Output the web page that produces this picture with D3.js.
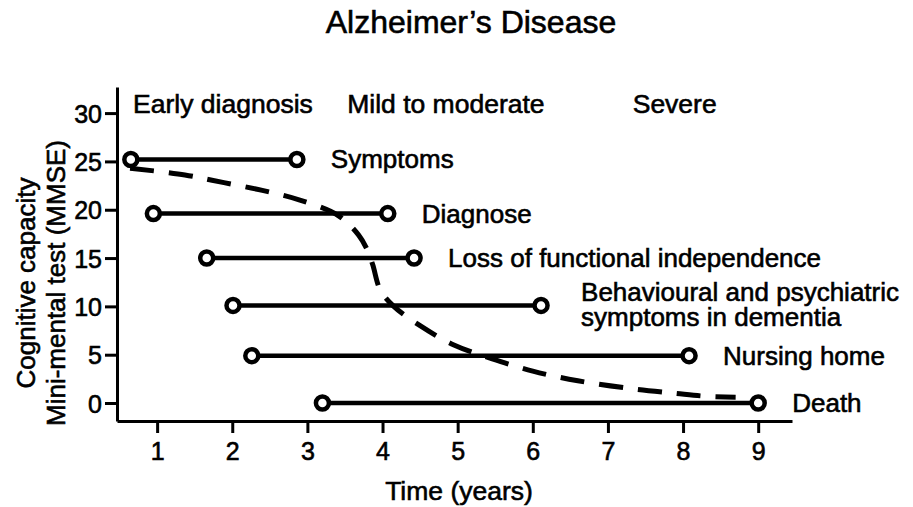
<!DOCTYPE html>
<html>
<head>
<meta charset="utf-8">
<script src="https://cdn.jsdelivr.net/npm/d3@7"></script>
<style>
  html, body { margin: 0; padding: 0; background: #fff; }
  svg { display: block; }
  text { font-family: "Liberation Sans", Arial, Helvetica, sans-serif; fill: #000; stroke: #000; stroke-width: 0.6px; }
</style>
</head>
<body>
<svg id="chart" width="913" height="507"></svg>
<script>
// ---- data ----
const title = "Alzheimer\u2019s Disease";
const xTicks = [1, 2, 3, 4, 5, 6, 7, 8, 9];
const yTicks = [0, 5, 10, 15, 20, 25, 30];
const xLabel = "Time (years)";
const yLabelLines = ["Cognitive capacity", "Mini-mental test (MMSE)"];

const phases = ["Early diagnosis", "Mild to moderate", "Severe"];
const phaseStart = [0.68, 3.53, 7.33];

const events = ["Symptoms", "Diagnose", "Loss of functional independence",
  ["Behavioural and psychiatric", "symptoms in dementia"], "Nursing home", "Death"];
const eventStart = [0.65, 0.95, 1.66, 2.01, 2.26, 3.20];
const eventEnd   = [2.86, 4.07, 4.42, 6.11, 8.08, 9.00];
const eventMMSE  = [25.2, 19.6, 15.0, 10.1, 4.9, 0.0];

const curveX = [0.64, 1.37, 1.89, 2.40, 2.90, 3.41, 3.68, 3.80, 3.87, 3.97, 4.15, 4.50, 4.95, 5.45, 6.00, 6.60, 7.30, 7.90, 8.30, 8.70];
const curveY = [24.3, 23.6, 22.8, 22.0, 21.0, 19.4, 17.4, 15.8, 14.3, 11.7, 10.0, 8.0, 6.0, 4.6, 3.3, 2.3, 1.5, 1.0, 0.7, 0.6];

// ---- layout ----
const svg = d3.select("#chart");
const x = d3.scaleLinear().domain([0.466, 9.45]).range([117, 792]);
const y = d3.scaleLinear().domain([-1.86, 32.7]).range([421, 87]);

// title
svg.append("text").attr("x", 471).attr("y", 33).attr("text-anchor", "middle")
  .style("font-size", "32px").text(title);

// axes
const yAxis = d3.axisLeft(y).tickValues(yTicks).tickSize(12).tickSizeOuter(0).tickPadding(3);
const xAxis = d3.axisBottom(x).tickValues(xTicks).tickSize(12).tickSizeOuter(0).tickPadding(9);

const gy = svg.append("g").attr("transform", `translate(${x.range()[0]},0)`).call(yAxis);
const gx = svg.append("g").attr("transform", `translate(0,${y.range()[0]})`).call(xAxis);
[gx, gy].forEach(g => {
  g.select(".domain").attr("stroke", "#000").attr("stroke-width", 3);
  g.selectAll(".tick line").attr("stroke", "#000").attr("stroke-width", 3);
  g.selectAll(".tick text").style("font-size", "25px").attr("fill", "#000")
    .style("font-family", '"Liberation Sans", Arial, sans-serif');
});
gy.selectAll(".tick text").attr("dy", "0.36em");

// axis labels
svg.append("text").attr("x", 459).attr("y", 500).attr("text-anchor", "middle")
  .style("font-size", "26.5px").text(xLabel);
const yl = svg.append("text").attr("transform", "translate(0,283) rotate(-90)")
  .attr("text-anchor", "middle").style("font-size", "26px");
yl.append("tspan").attr("x", 0).attr("y", 35).text(yLabelLines[0]);
yl.append("tspan").attr("x", 0).attr("y", 65).text(yLabelLines[1]);

// phase labels
svg.selectAll(".phase").data(phases).join("text").attr("class", "phase")
  .attr("x", (d, i) => x(phaseStart[i])).attr("y", y(30))
  .style("font-size", "26.5px").text(d => d);

// dashed curve
const curvePts = curveX.map((cx, i) => [cx, curveY[i]]);
svg.append("path").datum(curvePts)
  .attr("d", d3.line().x(d => x(d[0])).y(d => y(d[1])).curve(d3.curveCatmullRom.alpha(0.5)))
  .attr("fill", "none").attr("stroke", "#000").attr("stroke-width", 5)
  .attr("stroke-dasharray", "24,15");

// event segments
const ev = events.map((name, i) => ({ name, s: eventStart[i], e: eventEnd[i], v: eventMMSE[i] }));
svg.selectAll(".seg").data(ev).join("line").attr("class", "seg")
  .attr("x1", d => x(d.s)).attr("x2", d => x(d.e))
  .attr("y1", d => y(d.v)).attr("y2", d => y(d.v))
  .attr("stroke", "#000").attr("stroke-width", 4.5);
const ends = ev.flatMap(d => [[d.s, d.v], [d.e, d.v]]);
svg.selectAll(".dot").data(ends).join("circle").attr("class", "dot")
  .attr("cx", d => x(d[0])).attr("cy", d => y(d[1])).attr("r", 6.5)
  .attr("fill", "#fff").attr("stroke", "#000").attr("stroke-width", 4.5);

// event labels
ev.forEach(d => {
  if (Array.isArray(d.name)) {
    d.name.forEach((line, k) => {
      svg.append("text").attr("x", x(d.e) + 40).attr("y", y(d.v) - 4 + k * 25)
        .style("font-size", "26px").text(line);
    });
  } else {
    svg.append("text").attr("x", x(d.e) + 34).attr("y", y(d.v) + 9)
      .style("font-size", "26px").text(d.name);
  }
});
</script>
</body>
</html>
